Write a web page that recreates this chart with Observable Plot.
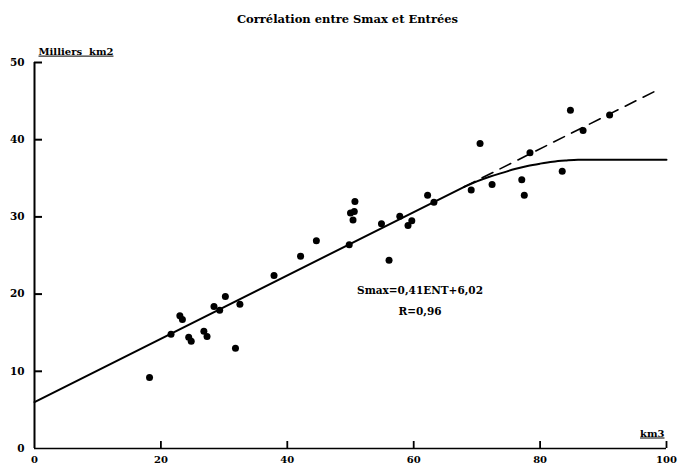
<!DOCTYPE html>
<html>
<head>
<meta charset="utf-8">
<script src="https://cdn.jsdelivr.net/npm/d3@7"></script>
<script src="https://cdn.jsdelivr.net/npm/@observablehq/plot@0.6"></script>
<style>
  html, body { margin: 0; padding: 0; background: #fff; }
  svg text { font-family: "DejaVu Serif", serif; font-weight: bold; }
  .ul text { text-decoration: underline; }
</style>
</head>
<body>
<div id="chart"></div>
<script>
// Observed points (Entrées km3, Smax milliers km2)
const entrees = [18.2, 21.6, 23.0, 23.4, 24.4, 24.8, 26.8, 27.3, 28.4, 29.3, 30.2, 31.8, 32.5, 37.9,
  42.1, 44.6, 49.8, 50.7, 50.0, 50.6, 50.4, 54.9, 56.1, 57.8, 59.1, 59.7, 62.2, 63.2,
  69.1, 70.5, 72.4, 77.1, 77.5, 78.4, 83.5, 84.8, 86.8, 91.0];
const smax = [9.2, 14.8, 17.2, 16.7, 14.4, 13.9, 15.2, 14.5, 18.4, 17.9, 19.7, 13.0, 18.7, 22.4,
  24.9, 26.9, 26.4, 32.0, 30.5, 30.7, 29.6, 29.1, 24.4, 30.1, 28.9, 29.5, 32.8, 31.9,
  33.5, 39.5, 34.2, 34.8, 32.8, 38.3, 35.9, 43.8, 41.2, 43.2];

// Regression line (solid part)
const regX = [0, 68];
const regY = [6.02, 33.9];
// Dashed extrapolation
const dashX = [68, 98];
const dashY = [33.9, 46.2];
// Saturating curve
const curveX = [68, 70, 72, 74, 76, 78, 80, 82, 84, 86, 90, 95, 100];
const curveY = [33.9, 34.6, 35.2, 35.7, 36.2, 36.6, 36.9, 37.15, 37.3, 37.4, 37.4, 37.4, 37.4];

const xTicks = [0, 20, 40, 60, 80, 100];
const yTicks = [0, 10, 20, 30, 40, 50];
const title = "Corrélation entre Smax et Entrées";
const yLabel = "Milliers  km2";
const xLabel = "km3";
const eqLabel = "Smax=0,41ENT+6,02";
const rLabel = "R=0,96";

const pts = entrees.map((x, i) => ({x, y: smax[i]}));
const reg = regX.map((x, i) => ({x, y: regY[i]}));
const dash = dashX.map((x, i) => ({x, y: dashY[i]}));
const curve = curveX.map((x, i) => ({x, y: curveY[i]}));

const chart = Plot.plot({
  width: 680,
  height: 467,
  marginLeft: 34,
  marginRight: 14,
  marginTop: 62,
  marginBottom: 19,
  style: {background: "#fff", color: "#000", fontSize: "10px", fontFamily: "DejaVu Serif"},
  x: {domain: [0, 100], label: null},
  y: {domain: [0, 50], label: null},
  marks: [
    // tick labels
    Plot.axisX(xTicks, {tickSize: 0, tickPadding: 7, fontSize: 10, fontWeight: "bold", label: null}),
    Plot.axisY(yTicks, {tickSize: 0, tickPadding: 10, fontSize: 10.5, fontWeight: "bold", label: null}),
    // inward tick marks
    Plot.tickX(xTicks.slice(1), {x: d => d, insetTop: 379, stroke: "#000", strokeWidth: 1.8}),
    Plot.tickY(yTicks.slice(1), {y: d => d, insetRight: 624, stroke: "#000", strokeWidth: 2}),
    // axis lines
    Plot.ruleX([0], {strokeWidth: 2}),
    Plot.ruleY([0], {strokeWidth: 1.6}),
    // lines
    Plot.line(reg, {x: "x", y: "y", strokeWidth: 2}),
    Plot.line(dash, {x: "x", y: "y", strokeWidth: 1.6, strokeDasharray: "12,8"}),
    Plot.line(curve, {x: "x", y: "y", curve: "monotone-x", strokeWidth: 2}),
    // points
    Plot.dot(pts, {x: "x", y: "y", r: 3.5, fill: "#000", stroke: "none"}),
    // annotations
    Plot.text([eqLabel], {x: 61, y: 20.4, text: d => d, fontSize: 10.5, fontWeight: "bold"}),
    Plot.text([rLabel], {x: 61, y: 17.7, text: d => d, fontSize: 10.5, fontWeight: "bold"}),
    Plot.text([title], {frameAnchor: "top", dx: -3, dy: -48, text: d => d, fontSize: 11.5, fontWeight: "bold"}),
    Plot.text([yLabel], {frameAnchor: "top-left", dx: 4, dy: -15, textAnchor: "start", text: d => d, fontSize: 10, fontWeight: "bold", className: "ul"}),
    Plot.text([xLabel], {frameAnchor: "bottom-right", dx: -2, dy: -12, textAnchor: "end", text: d => d, fontSize: 10, fontWeight: "bold", className: "ul"})
  ]
});
document.getElementById("chart").appendChild(chart);
</script>
</body>
</html>
